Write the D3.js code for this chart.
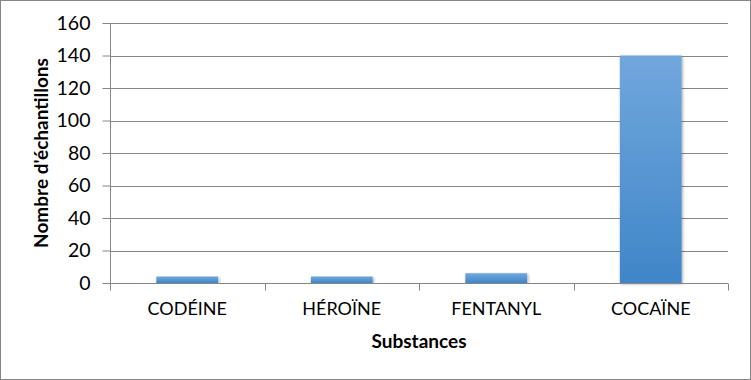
<!DOCTYPE html>
<html><head><meta charset="utf-8">
<script src="https://cdn.jsdelivr.net/npm/d3@7"></script>
<style>body{margin:0;background:#fff;} text{font-family:Lato,"Open Sans",sans-serif;}</style>
</head><body>
<svg id="c" width="751" height="380"></svg>
<script>
const categories = ["CODÉINE", "HÉROÏNE", "FENTANYL", "COCAÏNE"];
const values = [4, 4, 6, 140];
const yTicks = [0, 20, 40, 60, 80, 100, 120, 140, 160];
const yTitle = "Nombre d'échantillons";
const xTitle = "Substances";

const svg = d3.select("#c");
const W = 751, H = 380;
const m = {l:110, r:23, t:23, b:97};
svg.append("rect").attr("x",0.5).attr("y",0.5).attr("width",W-1).attr("height",H-1)
  .attr("fill","#fff").attr("stroke","#868686");

const x = d3.scaleBand().domain(categories).range([m.l, W-m.r]).paddingInner(0.6).paddingOuter(0.3);
const y = d3.scaleLinear().domain([0,160]).range([H-m.b, m.t]);

const defs = svg.append("defs");
const g = defs.append("linearGradient").attr("id","bg").attr("x1",0).attr("x2",0).attr("y1",0).attr("y2",1);
g.append("stop").attr("offset","0%").attr("stop-color","#71a7dd");
g.append("stop").attr("offset","100%").attr("stop-color","#3f86c8");
const f = defs.append("filter").attr("id","sh").attr("x","-20%").attr("y","-5%").attr("width","140%").attr("height","110%");
f.append("feDropShadow").attr("dx",1).attr("dy",1).attr("stdDeviation",1.5).attr("flood-color","#000").attr("flood-opacity",0.35);

// gridlines
svg.append("g").selectAll("line").data(yTicks.filter(d=>d>0)).join("line")
  .attr("x1",m.l).attr("x2",W-m.r).attr("y1",d=>Math.round(y(d))+0.5).attr("y2",d=>Math.round(y(d))+0.5)
  .attr("stroke","#868686").attr("stroke-width",1);

// bars
svg.append("g").selectAll("rect").data(values).join("rect")
  .attr("x",(d,i)=>x(categories[i])).attr("width",x.bandwidth())
  .attr("y",d=>y(d)).attr("height",d=>y(0)-y(d))
  .attr("fill","url(#bg)").attr("filter","url(#sh)");

// y axis
const ya = svg.append("g").attr("transform",`translate(${m.l+0.5},0)`)
  .call(d3.axisLeft(y).tickValues(yTicks).tickSize(8).tickPadding(12));
ya.select(".domain").attr("stroke","#868686").attr("d",`M0,${y(160)}V${y(0)}`);
ya.selectAll(".tick line").attr("stroke","#868686");
ya.selectAll(".tick text").attr("font-size","19.5px").attr("fill","#000").attr("font-family","Lato,sans-serif");

// x axis
const xa = svg.append("g").attr("transform",`translate(0,${Math.round(y(0))+0.5})`)
  .call(d3.axisBottom(x).tickSize(0).tickPadding(19));
xa.select(".domain").attr("stroke","#868686").attr("d",`M${m.l},0H${W-m.r}`);
xa.selectAll(".tick text").attr("font-size","18px").attr("fill","#000").attr("font-family","Lato,sans-serif");
// category boundary ticks
const bounds = d3.range(categories.length+1).map(i=>m.l + i*(W-m.l-m.r)/categories.length);
xa.append("g").selectAll("line").data(bounds).join("line")
  .attr("x1",d=>Math.round(d)+0.5).attr("x2",d=>Math.round(d)+0.5).attr("y1",0).attr("y2",7)
  .attr("stroke","#868686");

svg.append("text").attr("transform",`translate(48,${(y(0)+y(160))/2}) rotate(-90)`)
  .attr("text-anchor","middle").attr("font-size","19px").attr("font-weight","bold").text(yTitle);
svg.append("text").attr("x",(m.l+W-m.r)/2).attr("y",348).attr("text-anchor","middle")
  .attr("font-size","19px").attr("font-weight","bold").text(xTitle);
</script>
</body></html>
